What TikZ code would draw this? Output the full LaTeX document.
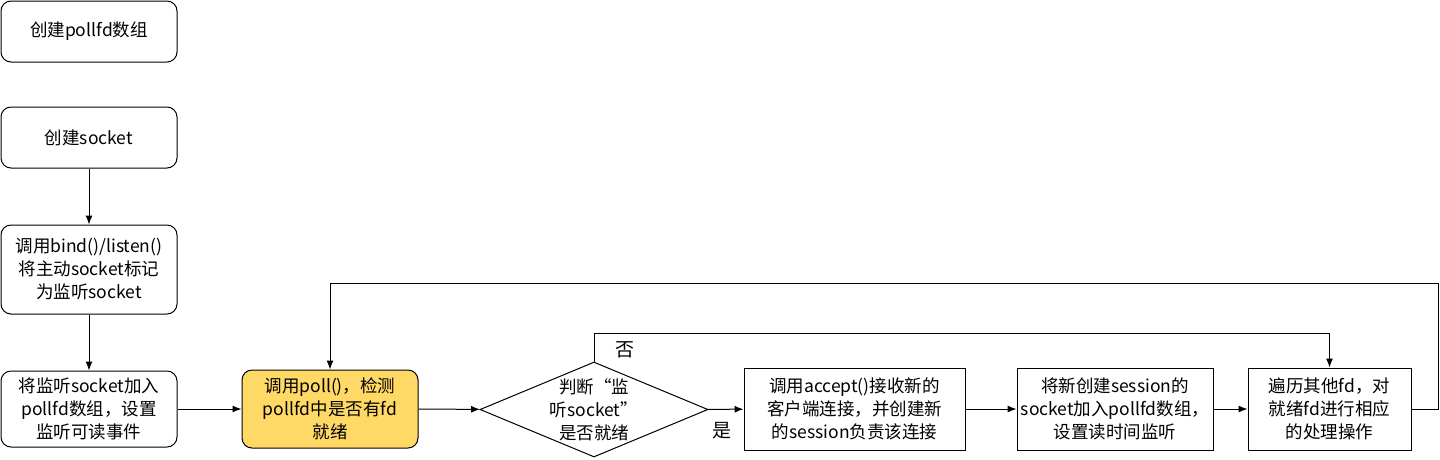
\documentclass[tikz,border=0pt]{standalone}
\usepackage{fontspec}
\setmainfont{Noto Sans CJK SC}
\usetikzlibrary{arrows.meta,shapes.geometric}
\begin{document}
\begin{tikzpicture}[x=1pt,y=-1pt,
  every node/.style={font=\fontsize{17.5}{23}\selectfont, align=center, inner sep=0pt},
  rbox/.style={draw, line width=1pt, rounded corners=10pt, fill=white},
  sbox/.style={draw, line width=1pt, fill=white},
  conn/.style={line width=1pt, -{Latex[length=9pt,width=7pt]}},
  line/.style={line width=1pt}]
\useasboundingbox (0,0) rectangle (1440,459);
\node[rbox, minimum width=176pt, minimum height=61pt] (b1) at (89,31.5) {创建pollfd数组};
\node[rbox, minimum width=176pt, minimum height=61pt] (b2) at (89,137.5) {创建socket};
\node[rbox, minimum width=176pt, minimum height=89pt] (b3) at (89,269.5) {调用bind()/listen()\\将主动socket标记\\为监听socket};
\node[rbox, minimum width=176pt, minimum height=76pt] (b4) at (89,409) {将监听socket加入\\pollfd数组，设置\\监听可读事件};
\node[rbox, fill={rgb,255:red,255;green,217;blue,102}, minimum width=176pt, minimum height=78pt] (poll) at (330,409) {调用poll()，检测\\pollfd中是否有fd\\就绪};
\node[draw, line width=1pt, diamond, minimum width=228pt, minimum height=95pt, aspect=2.4] (dia) at (594,409.5) {};
\node (diat) at (594,410) {判断“监\\听socket”\\是否就绪};
\node[sbox, minimum width=221pt, minimum height=82pt] (acc) at (854.5,409) {调用accept()接收新的\\客户端连接，并创建新\\的session负责该连接};
\node[sbox, minimum width=196pt, minimum height=82pt] (ses) at (1115,409) {将新创建session的\\socket加入pollfd数组，\\设置读时间监听};
\node[sbox, minimum width=163pt, minimum height=82pt] (proc) at (1329.5,409) {遍历其他fd，对\\就绪fd进行相应\\的处理操作};
\coordinate (n1) at (594,333);
\coordinate (n2) at (1329.5,333);
\coordinate (r1) at (1438,409);
\coordinate (r2) at (1438,283);
\coordinate (r3) at (330,283);
\draw[conn] (b2) -- (b3);
\draw[conn] (b3) -- (b4);
\draw[conn] (b4) -- (poll);
\draw[conn] (poll) -- (dia);
\draw[conn] (dia) -- (acc);
\draw[conn] (acc) -- (ses);
\draw[conn] (ses) -- (proc);
\draw[conn] (dia.north) -- (n1) -- (n2) -- (proc.north);
\draw[conn] (proc.east) -- (r1) -- (r2) -- (r3) -- (poll.north);
\node[font=\fontsize{19}{22}\selectfont] (no) at (625,350) {否};
\node[font=\fontsize{19}{22}\selectfont] (yes) at (722,431) {是};
\end{tikzpicture}
\end{document}
